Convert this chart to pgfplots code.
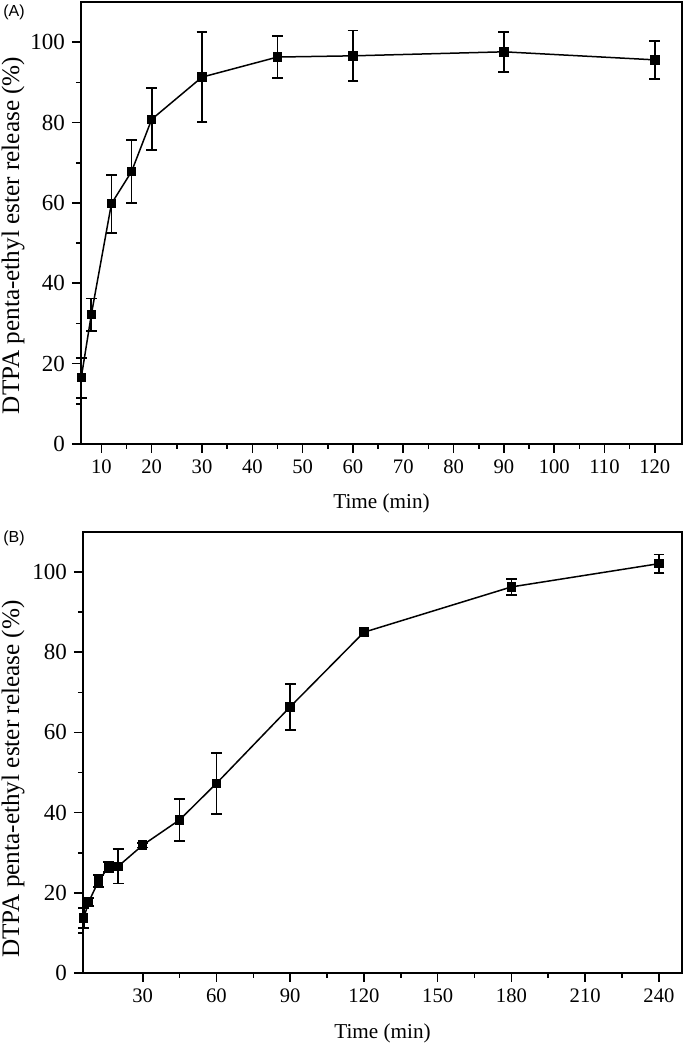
\documentclass[border=0pt]{standalone}
\usepackage{fontspec}
\setmainfont{Liberation Serif}
\newfontfamily\arialfont{Liberation Sans}
\usepackage{pgfplots}
\pgfplotsset{compat=1.18}
\pgfplotstableread{
x y e
6 16.5 5.0
8 32.2 4.0
12 59.8 7.2
16 67.8 7.8
20 80.8 7.7
30 91.3 11.2
45 96.3 5.3
60 96.6 6.3
90 97.6 5.0
120 95.6 4.7
}\dataA
\pgfplotstableread{
x y e
6 13.7 2.5
8 17.7 1.0
12 22.9 1.5
16 26.4 1.2
20 26.6 4.3
30 31.9 0.6
45 38.2 5.2
60 47.3 7.6
90 66.4 5.7
120 85.0 0.6
180 96.3 2.0
240 102.1 2.3
}\dataB
\pgfplotsset{
 myax/.style={
  scale only axis,
  axis line style={line width=0.9pt},
  tick align=outside, xtick pos=bottom, ytick pos=left,
  major tick length=4.5pt, minor tick length=2.5pt,
  every tick/.style={line width=0.8pt, black},
  ymin=0, ymax=110, ytick={0,20,...,100}, minor y tick num=1,
  minor x tick num=1,
  /pgf/number format/assume math mode=true,
  yticklabel style={font=\fontsize{11.5}{12}\selectfont},
  xticklabel style={font=\fontsize{10.3}{12}\selectfont},
  xlabel style={font=\fontsize{10.6}{12}\selectfont, anchor=center},
  ylabel style={font=\fontsize{12.6}{14}\selectfont, anchor=center},
  clip=false,
 },
 myplot/.style={black, line width=0.75pt, mark=square*, mark size=2pt,
  error bars/.cd, y dir=both, y explicit,
  error bar style={line width=0.9pt, black},
  error mark=-, error mark options={line width=0.9pt, mark size=2.7pt, rotate=90, black}},
}
\begin{document}
\begin{tikzpicture}
\useasboundingbox (0pt,0pt) rectangle (343.5pt,525pt);
\begin{axis}[myax, at={(40.5pt,303pt)}, anchor=south west,
  width=300.5pt, height=221pt,
  xmin=5.95, xmax=125.4, xtick={10,20,...,120},
  xlabel={Time (min)}, ylabel={DTPA penta-ethyl ester release (\%)},
  xlabel style={at={(rel axis cs:0.5,-0.1335)}},
  ylabel style={at={(rel axis cs:-0.1131,0.472)}}]
\addplot[myplot] table[x=x, y=y, y error=e] {\dataA};
\end{axis}
\begin{axis}[myax, at={(41.5pt,38.5pt)}, anchor=south west,
  width=299.5pt, height=220.5pt,
  xmin=5.7, xmax=249.4, xtick={30,60,...,240},
  xlabel={Time (min)}, ylabel={DTPA penta-ethyl ester release (\%)},
  xlabel style={at={(rel axis cs:0.5,-0.136)}},
  ylabel style={at={(rel axis cs:-0.1169,0.44)}}]
\addplot[myplot] table[x=x, y=y, y error=e] {\dataB};
\end{axis}
\node[font=\arialfont\fontsize{8}{9}\selectfont] at (7pt,519pt) {(A)};
\node[font=\arialfont\fontsize{8}{9}\selectfont] at (7pt,255.75pt) {(B)};
\end{tikzpicture}
\end{document}
